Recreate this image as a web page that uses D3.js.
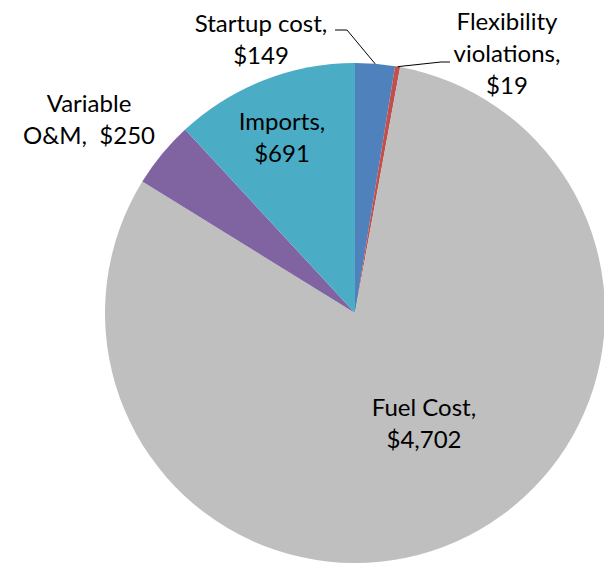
<!DOCTYPE html>
<html>
<head>
<meta charset="utf-8">
<script src="https://cdn.jsdelivr.net/npm/d3@7"></script>
<style>
  body { margin: 0; background: #fff; }
  text { font-family: Lato, "Open Sans", sans-serif; fill: #000; }
</style>
</head>
<body>
<div id="chart"></div>
<script>
// chart data
let categories = ['Startup cost', 'Flexibility violations', 'Fuel Cost', 'Variable O&M', 'Imports'];
let values = [149, 19, 4702, 250, 691];
let valueLabels = ['$149', '$19', '$4,702', '$250', '$691'];
let colors = ['#4F81BD', '#C0504D', '#BFBFBF', '#8064A2', '#4BACC6'];

let w = 604;
let h = 567;
let cx = 355;
let cy = 313;
let r = 250;
let fontSize = 24;
let lineH = 32;

let svg = d3.select('#chart').
append('svg').
attr('width', w).
attr('height', h);

let pie = d3.pie().sort(null).value(d => d).startAngle(0).endAngle(2 * Math.PI);
let arcs = pie(values);
let arc = d3.arc().innerRadius(0).outerRadius(r);

let g = svg.append('g').attr('transform', 'translate(' + cx + ',' + cy + ')');

g.selectAll('path').
data(arcs).
enter().
append('path').
attr('d', arc).
attr('fill', (d, i) => colors[i]);

// label text, split the way the reference wraps it
let labelLines = [
  [categories[0] + ',', valueLabels[0]],
  ['Flexibility', 'violations,', valueLabels[1]],
  [categories[2] + ',', valueLabels[2]],
  ['Variable', 'O&M,  ' + valueLabels[3]],
  [categories[4] + ',', valueLabels[4]]
];
// x centre and first baseline of each label (relative to pie centre)
let labelPos = [[-94, -281], [152, -283], [69, 103], [-266, -201], [-73, -183]];
// leader line: elbow point and end point near the label (null = no leader)
let leaders = [[[-8, -283], [-20, -283]], [[86, -251], [95, -251]], null, null, null];

let mid = d => (d.startAngle + d.endAngle) / 2;

arcs.forEach(function (d, i) {
  if (!leaders[i]) return;
  let a = mid(d);
  let p0 = [Math.sin(a) * r, -Math.cos(a) * r];
  g.append('path').
  attr('d', d3.line()([p0].concat(leaders[i]))).
  attr('fill', 'none').
  attr('stroke', '#000').
  attr('stroke-width', 1);
});

arcs.forEach(function (d, i) {
  let t = g.append('text').
  attr('text-anchor', 'middle').
  attr('font-size', fontSize).
  attr('x', labelPos[i][0]).
  attr('y', labelPos[i][1]).
  style('white-space', 'pre');
  labelLines[i].forEach(function (line, j) {
    t.append('tspan').
    attr('x', labelPos[i][0]).
    attr('dy', j === 0 ? 0 : lineH).
    text(line);
  });
});
</script>
</body>
</html>
